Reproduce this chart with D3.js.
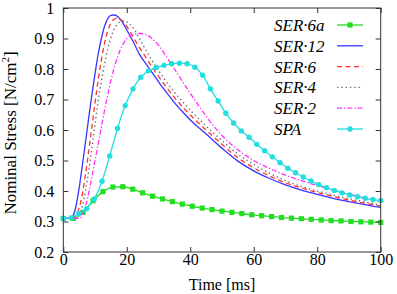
<!DOCTYPE html>
<html>
<head>
<meta charset="utf-8">
<script src="https://cdn.jsdelivr.net/npm/d3@7"></script>
<style>
    body { margin: 0; background: #fff; }
    svg text { font-family: "Liberation Serif", "Times New Roman", Times, serif; fill: #000; }
    .legend-label { font-style: italic; font-size: 17px; }
</style>
</head>
<body>
<div id="chart"></div>
<script>
/*
----------------------------------------------------
    Data
----------------------------------------------------
*/
// time grid shared by the four smooth SER curves [ms]
const timeSmooth = [0,1,2,3,4,5,6,7,8,9,10,11,12,13,14,15,16,17,18,19,20,22,24,26,28,30,32,35,38,40,43,45,50,55,60,65,70,75,80,85,90,95,100];

const ser12 = [0.31,0.31,0.31,0.318,0.35,0.41,0.485,0.56,0.64,0.715,0.785,0.85,0.9,0.94,0.965,0.976,0.977,0.973,0.962,0.947,0.928,0.89,0.848,0.818,0.788,0.758,0.73,0.69,0.655,0.633,0.605,0.587,0.54,0.498,0.466,0.441,0.42,0.403,0.389,0.376,0.365,0.355,0.346];
const ser6 = [0.31,0.31,0.31,0.311,0.32,0.345,0.39,0.455,0.53,0.61,0.69,0.765,0.83,0.885,0.925,0.95,0.963,0.967,0.963,0.953,0.94,0.905,0.87,0.838,0.806,0.776,0.747,0.707,0.671,0.649,0.619,0.6,0.553,0.509,0.476,0.449,0.427,0.41,0.395,0.382,0.37,0.36,0.35];
const ser4 = [0.31,0.31,0.31,0.31,0.31,0.318,0.35,0.4,0.465,0.54,0.62,0.697,0.76,0.818,0.866,0.903,0.93,0.947,0.955,0.958,0.955,0.935,0.9,0.862,0.827,0.795,0.765,0.724,0.688,0.665,0.633,0.613,0.565,0.521,0.487,0.458,0.434,0.415,0.4,0.387,0.375,0.364,0.354];
const ser2 = [0.31,0.31,0.31,0.31,0.31,0.31,0.322,0.35,0.395,0.445,0.5,0.555,0.61,0.665,0.715,0.763,0.803,0.837,0.864,0.885,0.9,0.913,0.917,0.913,0.9,0.878,0.848,0.8,0.752,0.72,0.675,0.645,0.582,0.535,0.5,0.474,0.452,0.434,0.418,0.403,0.39,0.377,0.365];

// SPA, sampled every 100/41 ms
const spaTime = d3.range(42).map(i => i * 100 / 41);
const spa = [0.31,0.312,0.326,0.342,0.374,0.432,0.515,0.605,0.68,0.735,0.773,0.794,0.805,0.812,0.817,0.819,0.817,0.806,0.78,0.735,0.695,0.655,0.623,0.597,0.576,0.553,0.532,0.512,0.493,0.475,0.46,0.446,0.433,0.421,0.411,0.402,0.394,0.387,0.381,0.376,0.372,0.369];

// SER-6a, sampled every 3.125 ms
const ser6aTime = d3.range(33).map(i => i * 3.125);
const ser6a = [0.31,0.31,0.33,0.368,0.398,0.413,0.414,0.406,0.394,0.383,0.374,0.365,0.357,0.35,0.344,0.339,0.334,0.33,0.326,0.322,0.319,0.316,0.313,0.311,0.309,0.307,0.305,0.303,0.302,0.3,0.299,0.298,0.297];

const xTicks = [0, 20, 40, 60, 80, 100];
const yTicks = [0.2, 0.3, 0.4, 0.5, 0.6, 0.7, 0.8, 0.9, 1];

const legendNames = ["SER\u00b76a", "SER\u00b712", "SER\u00b76", "SER\u00b74", "SER\u00b72", "SPA"];

/*
----------------------------------------------------
    Chart
----------------------------------------------------
*/
var serif = "'Liberation Serif', 'Times New Roman', Times, serif";
var width = 397, height = 294;
var margin = { top: 8, right: 16.3, bottom: 42, left: 63.3 };

var svg = d3.select("#chart")
    .append("svg")
    .attr("width", width)
    .attr("height", height)
    .attr("font-family", serif);

var x = d3.scaleLinear().domain([0, 100]).range([margin.left, width - margin.right]);
var y = d3.scaleLinear().domain([0.2, 1]).range([height - margin.bottom, margin.top]);

// series styles, same order as the legend
var series = [
    { name: legendNames[0], t: ser6aTime, v: ser6a, color: "#22dd22", dash: null, width: 1.3, marker: "square" },
    { name: legendNames[1], t: timeSmooth, v: ser12, color: "#3636ff", dash: null, width: 1.3 },
    { name: legendNames[2], t: timeSmooth, v: ser6, color: "#ff3030", dash: "5,3.5", width: 1.3 },
    { name: legendNames[3], t: timeSmooth, v: ser4, color: "#666666", dash: "1.3,3", width: 1.4 },
    { name: legendNames[4], t: timeSmooth, v: ser2, color: "#ff30ff", dash: "5,2,1.3,2", width: 1.3 },
    { name: legendNames[5], t: spaTime, v: spa, color: "#22dede", dash: null, width: 1.3, marker: "circle" }
];

var line = d3.line()
    .x(d => x(d[0]))
    .y(d => y(d[1]))
    .curve(d3.curveMonotoneX);

var plot = svg.append("g");

series.forEach(s => {
    var pts = s.t.map((t, i) => [t, s.v[i]]);
    plot.append("path")
        .datum(pts)
        .attr("fill", "none")
        .attr("stroke", s.color)
        .attr("stroke-width", s.width)
        .attr("stroke-dasharray", s.dash)
        .attr("d", line);

    if (s.marker === "square") {
        plot.selectAll(null).data(pts).enter()
            .append("rect")
            .attr("x", d => x(d[0]) - 2.6)
            .attr("y", d => y(d[1]) - 2.6)
            .attr("width", 5.2)
            .attr("height", 5.2)
            .attr("fill", s.color);
    } else if (s.marker === "circle") {
        plot.selectAll(null).data(pts).enter()
            .append("circle")
            .attr("cx", d => x(d[0]))
            .attr("cy", d => y(d[1]))
            .attr("r", 2.7)
            .attr("fill", s.color);
    }
});

// axes, ticks pointing inward on all four sides
var fmtY = d => d === 1 ? "1" : d.toFixed(1);

function styleAxis(g) {
    g.attr("font-family", serif).attr("font-size", 16);
    g.select(".domain").remove();
    g.selectAll("line").attr("stroke", "#333");
    g.selectAll("text").attr("fill", "#000");
}

svg.append("g")
    .attr("transform", "translate(0," + y.range()[0] + ")")
    .call(d3.axisBottom(x).tickValues(xTicks).tickSizeInner(-5).tickSizeOuter(0).tickPadding(2))
    .call(styleAxis);

svg.append("g")
    .attr("transform", "translate(0," + y.range()[1] + ")")
    .call(d3.axisTop(x).tickValues(xTicks).tickSizeInner(-5).tickSizeOuter(0).tickFormat(""))
    .call(styleAxis);

svg.append("g")
    .attr("transform", "translate(" + x.range()[0] + ",0)")
    .call(d3.axisLeft(y).tickValues(yTicks).tickFormat(fmtY).tickSizeInner(-5).tickSizeOuter(0).tickPadding(9))
    .call(styleAxis);

svg.append("g")
    .attr("transform", "translate(" + x.range()[1] + ",0)")
    .call(d3.axisRight(y).tickValues(yTicks).tickSizeInner(-5).tickSizeOuter(0).tickFormat(""))
    .call(styleAxis);

// border box
svg.append("rect")
    .attr("x", x.range()[0])
    .attr("y", y.range()[1])
    .attr("width", x.range()[1] - x.range()[0])
    .attr("height", y.range()[0] - y.range()[1])
    .attr("fill", "none")
    .attr("stroke", "#333")
    .attr("stroke-width", 1);

// axis titles
svg.append("text")
    .attr("x", (x.range()[0] + x.range()[1]) / 2)
    .attr("y", 289.5)
    .attr("text-anchor", "middle")
    .attr("font-size", 16)
    .text("Time [ms]");

var yTitle = svg.append("text")
    .attr("transform", "translate(16," + 133 + ") rotate(-90)")
    .attr("text-anchor", "middle")
    .attr("font-size", 17);
yTitle.append("tspan").text("Nominal Stress [N/cm");
yTitle.append("tspan").attr("dy", -7).attr("font-size", 11).text("2");
yTitle.append("tspan").attr("dy", 7).text("]");

// legend
var legendGroup = svg.append("g");
var rowStep = 20.8;
series.forEach((s, i) => {
    var cy = 25 + i * rowStep;
    legendGroup.append("text")
        .attr("class", "legend-label")
        .attr("x", 274)
        .attr("y", cy + 6)
        .text(s.name);
    legendGroup.append("line")
        .attr("x1", 337).attr("x2", 363)
        .attr("y1", cy).attr("y2", cy)
        .attr("stroke", s.color)
        .attr("stroke-width", s.width)
        .attr("stroke-dasharray", s.dash);
    if (s.marker === "square") {
        legendGroup.append("rect")
            .attr("x", 350 - 2.6).attr("y", cy - 2.6)
            .attr("width", 5.2).attr("height", 5.2)
            .attr("fill", s.color);
    } else if (s.marker === "circle") {
        legendGroup.append("circle")
            .attr("cx", 350).attr("cy", cy).attr("r", 2.7)
            .attr("fill", s.color);
    }
});
</script>
</body>
</html>
